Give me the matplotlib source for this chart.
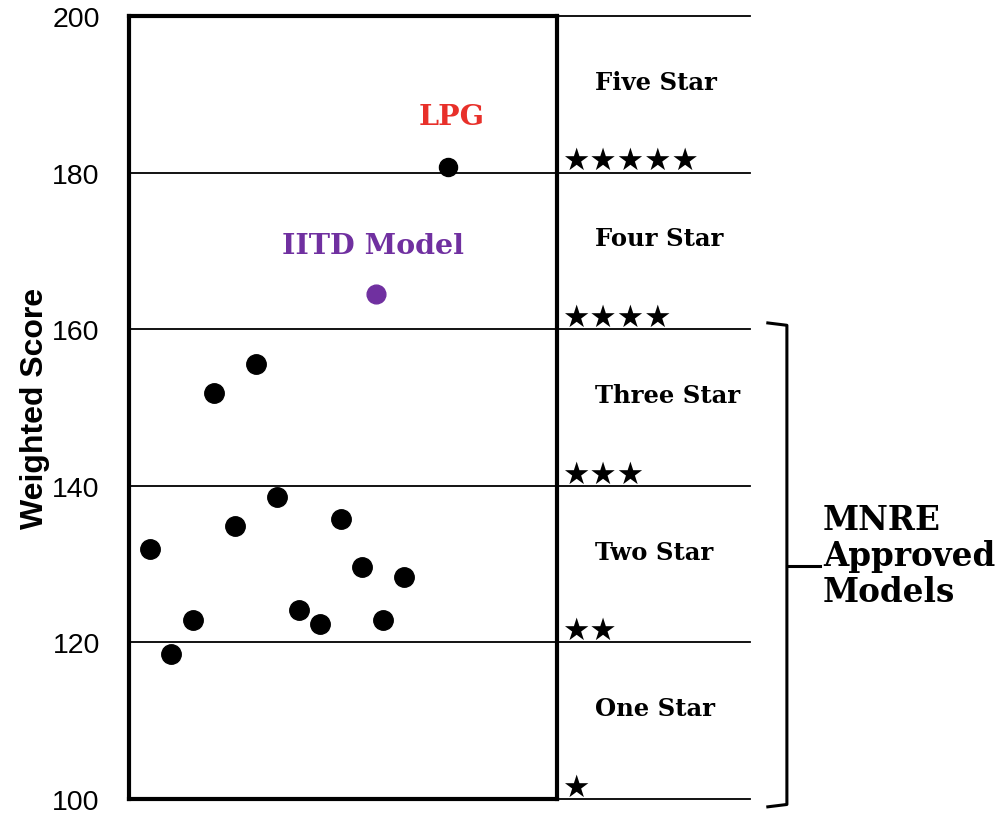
import numpy as np
import matplotlib.pyplot as plt

# weighted scores of the cookstove models (x is just a spread index)
model_x = [1, 2, 3, 4, 5, 6, 7, 8, 9, 10, 11, 12, 13]
model_scores = [131.9, 118.5, 122.8, 151.9, 134.9, 155.6, 138.6, 124.1, 122.3, 135.8, 129.6, 122.8, 128.3]
iitd_x, iitd_score = 11.66, 164.5
lpg_x, lpg_score = 15.06, 180.7

band_edges = [100, 120, 140, 160, 180, 200]
band_names = ["One Star", "Two Star", "Three Star", "Four Star", "Five Star"]
yticks = [100, 120, 140, 160, 180, 200]

serif = "DejaVu Serif"

fig = plt.figure(figsize=(10, 8.2), dpi=100)
ax = fig.add_axes([0.129, 1 - 800 / 820, 0.428, 783 / 820])
ax.set_xlim(0, 20.2)
ax.set_ylim(100, 200)

for s in ax.spines.values():
    s.set_linewidth(3)
ax.set_xticks([])
ax.set_yticks(yticks)
ax.tick_params(axis="y", length=0, pad=21)
for lab in ax.get_yticklabels():
    lab.set_fontfamily("Liberation Sans")
    lab.set_fontsize(20.5)
ax.set_ylabel("Weighted Score", fontsize=23, fontweight="bold",
              fontfamily="Liberation Sans")
ax.yaxis.set_label_coords(-0.185, 0.5)

# band lines running out past the box
x_line_end = 29.3
for e in band_edges:
    ax.plot([0, x_line_end], [e, e], color="black", lw=1.3, clip_on=False, zorder=1)

# star rows and band names
for i, name in enumerate(band_names):
    lo, hi = band_edges[i], band_edges[i + 1]
    ax.text(20.45, lo - 0.35, "\u2605" * (i + 1), fontsize=22, ha="left", va="bottom",
            fontfamily="DejaVu Sans", clip_on=False)
    ax.text(22.0, (lo + hi) / 2 + 1.6, name, fontsize=17.5, fontweight="bold",
            fontfamily=serif, ha="left", va="center", clip_on=False)

ax.plot(model_x, model_scores, "o", color="black", ms=14, zorder=3)
ax.plot([iitd_x], [iitd_score], "o", color="#7030a0", ms=13.5, zorder=3)
ax.plot([lpg_x], [lpg_score], "o", color="black", ms=13, zorder=3)

ax.text(15.25, 187.2, "LPG", color="#e8302a", fontsize=20.5, fontweight="bold",
        fontfamily=serif, ha="center", va="center")
ax.text(11.5, 170.7, "IITD Model", color="#7030a0", fontsize=20.5, fontweight="bold",
        fontfamily=serif, ha="center", va="center")

# bracket for MNRE approved models (three star and below)
bx, hook, tip = 31.05, 30.15, 32.6
top, bot = 160.8, 99.0
mid = 129.8
ax.plot([hook, bx, bx, hook], [top, top - 0.3, bot + 0.3, bot], color="black", lw=2.2,
        clip_on=False)
ax.plot([bx, tip], [mid, mid], color="black", lw=2.2, clip_on=False)
ax.text(32.75, 131.1, "MNRE\nApproved\nModels", fontsize=23.5, fontweight="bold",
        fontfamily=serif, ha="left", va="center", linespacing=1.1, clip_on=False)

fig.savefig("out.png", dpi=100)
